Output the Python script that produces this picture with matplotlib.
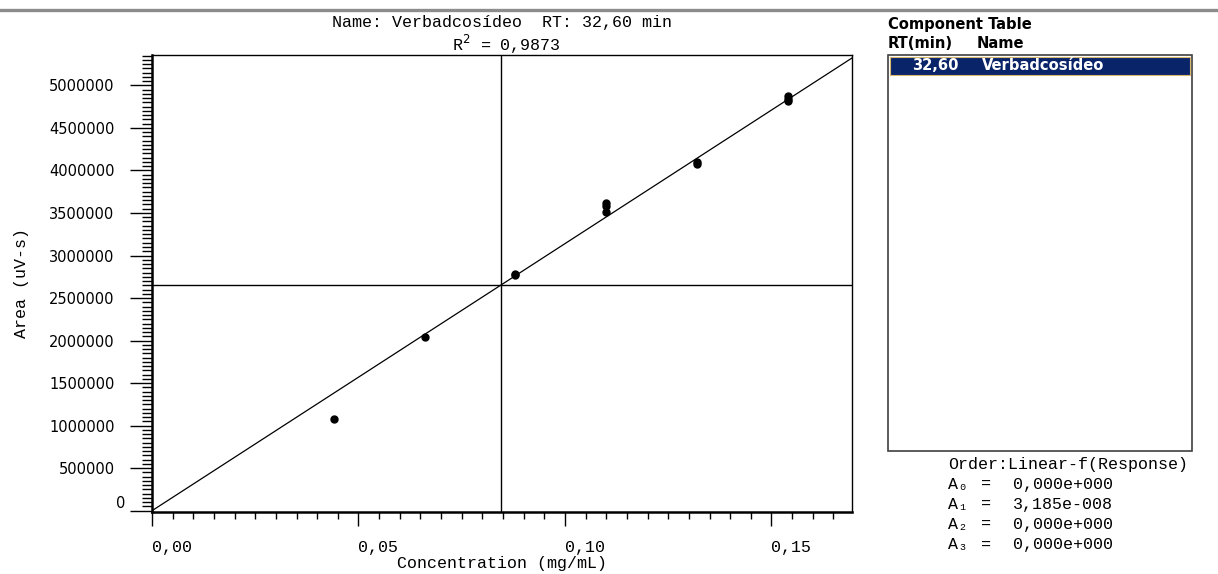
import matplotlib
matplotlib.use("Agg")
import matplotlib.pyplot as plt
from matplotlib.ticker import MultipleLocator, FixedLocator
from matplotlib.patches import Rectangle
from matplotlib.lines import Line2D

# ---- data ----
concentration = [0.044, 0.066, 0.088, 0.088, 0.110, 0.110, 0.110, 0.132, 0.132, 0.154, 0.154, 0.154]
area = [1082000, 2047000, 2785000, 2770000, 3615000, 3585000, 3515000, 4100000, 4070000, 4870000, 4840000, 4820000]
coef_A1 = 3.185e-8          # conc = A1 * area
cross_x = 0.0845            # centroid crosshair
x_ticks = [0.00, 0.05, 0.10, 0.15]
x_ticklabels = ["0,00", "0,05", "0,10", "0,15"]
y_ticks = [0, 500000, 1000000, 1500000, 2000000, 2500000, 3000000, 3500000, 4000000, 4500000, 5000000]
title_line1 = "Name: Verbadcosídeo  RT: 32,60 min"
r2_text = "0,9873"
table_rt = "32,60"
table_name = "Verbadcosídeo"
coef_labels = ["A\u2080", "A\u2081", "A\u2082", "A\u2083"]
coef_values = ["0,000e+000", "3,185e-008", "0,000e+000", "0,000e+000"]

W, H = 1218, 574
fig = plt.figure(figsize=(W / 100, H / 100), dpi=100)
mono = ["Liberation Mono", "DejaVu Sans Mono"]
MS = 12

def fx(px):
    return px / W

def fy(py):
    return 1 - py / H

# top gray bar
fig.add_artist(Line2D([0, 1], [fy(10), fy(10)], transform=fig.transFigure, color="#8c8c8c", lw=2.4))

ax = fig.add_axes([fx(152), fy(512), fx(852) - fx(152), fy(55) - fy(512)])
xmax = 0.1695
ax.set_xlim(0, xmax)
ax.set_ylim(-15000, 5357000)

slope = 1.0 / coef_A1
ax.plot([0, xmax], [0, slope * xmax], color="black", lw=0.9)
ax.axvline(cross_x, color="black", lw=1.0)
ax.axhline(slope * cross_x, color="black", lw=1.0)
ax.plot(concentration, area, linestyle="none", marker="o", ms=5, color="black")

for s in ["left", "bottom"]:
    ax.spines[s].set_linewidth(1.8)
for s in ["top", "right"]:
    ax.spines[s].set_linewidth(1.0)

ax.xaxis.set_major_locator(FixedLocator(x_ticks))
ax.set_xticklabels(x_ticklabels, fontfamily=mono, fontsize=MS, ha="left")
ax.xaxis.set_minor_locator(MultipleLocator(0.005))
ax.tick_params(axis="x", which="major", length=10, width=1, direction="out", pad=10)
ax.tick_params(axis="x", which="minor", length=5, width=1, direction="out")

ax.yaxis.set_major_locator(FixedLocator(y_ticks))
ylabels = [str(v) for v in y_ticks]
ylabels[0] = ""
ax.set_yticklabels(ylabels, fontfamily="DejaVu Sans", fontsize=10.5)
ax.yaxis.set_minor_locator(MultipleLocator(50000))
ax.tick_params(axis="y", which="major", length=16, width=1, direction="out", pad=11)
ax.tick_params(axis="y", which="minor", length=7, width=1, direction="out")
ax.annotate(str(y_ticks[0]), xy=(0, y_ticks[0]), xycoords=("axes fraction", "data"),
            xytext=(-27, 7), textcoords="offset pixels", ha="right", va="center",
            fontfamily="DejaVu Sans", fontsize=10.5)

ax.set_xlabel("Concentration (mg/mL)", fontfamily=mono, fontsize=MS, labelpad=1)
ax.set_ylabel("Area (uV-s)", fontfamily=mono, fontsize=MS, labelpad=14)

fig.text(fx(502), fy(22), title_line1, fontfamily=mono, fontsize=MS, ha="center", va="center")
fig.text(fx(506), fy(44), "R$^{2}$ = " + r2_text, fontfamily=mono, fontsize=MS, ha="center", va="center",
         math_fontfamily="dejavusans")

# Component table
cond = dict(family="DejaVu Sans", fontweight="bold", fontstretch="condensed")
TS = 11.8
fig.text(fx(888), fy(24), "Component Table", fontsize=TS, va="center", ha="left", **cond)
fig.text(fx(888), fy(44), "RT(min)", fontsize=TS, va="center", ha="left", **cond)
fig.text(fx(977), fy(44), "Name", fontsize=TS, va="center", ha="left", **cond)
fig.add_artist(Rectangle((fx(888), fy(451)), fx(1192) - fx(888), fy(55) - fy(451),
                         transform=fig.transFigure, fill=False, edgecolor="#404040", lw=1.2))
fig.add_artist(Rectangle((fx(890), fy(75)), fx(1190) - fx(890), fy(57) - fy(75),
                         transform=fig.transFigure, facecolor="#0a246a", edgecolor="#d8b870", lw=0.8))
fig.text(fx(959), fy(66), table_rt, fontsize=TS, color="white", va="center", ha="right", **cond)
fig.text(fx(982), fy(66), table_name, fontsize=TS, color="white", va="center", ha="left", **cond)

fig.text(fx(948), fy(464), "Order:Linear-f(Response)", fontfamily=mono, fontsize=MS, va="center", ha="left")
for i, (lab, val) in enumerate(zip(coef_labels, coef_values)):
    y = 484 + i * 20.3
    fig.text(fx(948), fy(y), lab, fontfamily=mono, fontsize=MS, va="center", ha="left")
    fig.text(fx(981), fy(y), "=", fontfamily=mono, fontsize=MS, va="center", ha="left")
    fig.text(fx(1013), fy(y), val, fontfamily=mono, fontsize=MS, va="center", ha="left")

fig.savefig("out.png", dpi=100)
